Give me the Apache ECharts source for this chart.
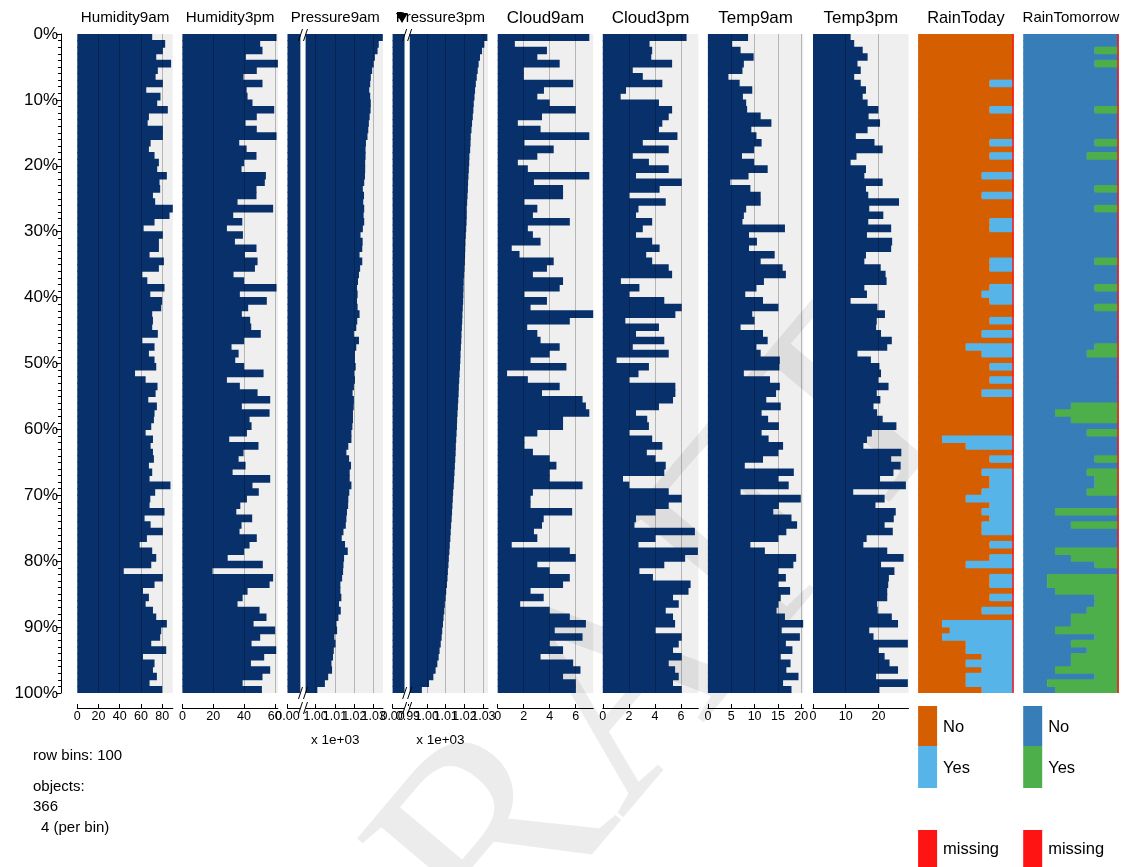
<!DOCTYPE html>
<html><head><meta charset="utf-8">
<script src="https://cdn.jsdelivr.net/npm/echarts@6/dist/echarts.min.js"></script>
<style>html,body{margin:0;padding:0;background:#fff}#c{width:1126px;height:867px}</style>
</head><body><div id="c"></div>
<script>
// ---------------- DATA ----------------
const columns = ['Humidity9am','Humidity3pm','Pressure9am','Pressure3pm','Cloud9am','Cloud3pm','Temp9am','Temp3pm','RainToday','RainTomorrow'];
const yTickLabels = ['0%','10%','20%','30%','40%','50%','60%','70%','80%','90%','100%'];
const rowBins = 100;
const objects = 366;
const perBin = 4;
const catLevels = ['No','Yes','missing'];

const humidity9am = [70.6,82.8,80.6,74.4,88.4,75.9,73.8,80.6,65.0,78.4,
 75.3,85.3,67.5,66.3,80.6,80.6,69.1,67.5,72.8,76.9,
 75.3,84.4,77.5,78.1,71.3,73.4,90.0,86.9,72.8,62.5,
 80.6,76.9,76.9,68.1,81.6,76.9,61.3,66.0,82.2,68.8,
 80.0,79.1,70.6,71.3,70.6,75.9,61.3,72.8,67.5,72.8,
 74.4,54.4,64.4,75.6,73.8,66.9,75.0,72.8,72.2,69.7,
 64.4,71.3,69.1,71.3,72.2,67.5,70.6,68.1,87.8,73.4,
 68.8,68.1,82.2,63.4,69.1,80.6,65.6,58.8,70.6,74.4,
 69.7,43.8,80.6,72.8,61.9,67.5,64.4,71.3,74.4,84.4,
 79.1,78.1,69.7,83.8,61.9,72.8,71.3,75.0,68.1,80.0];

const humidity3pm = [61.1,50.5,52.0,41.2,62.0,48.3,39.7,52.0,41.7,42.3,
 45.5,59.6,48.3,41.0,48.3,61.1,36.9,41.7,48.1,40.1,
 38.4,54.2,53.5,48.1,48.1,35.8,58.9,33.0,38.9,28.9,
 39.3,34.1,48.1,40.6,48.8,47.1,33.2,40.1,61.1,37.3,
 54.8,42.7,38.6,44.0,44.7,50.9,40.1,31.9,36.5,34.3,
 40.1,52.7,28.9,37.3,48.8,57.0,38.6,56.6,43.6,44.9,
 41.9,30.4,49.4,39.7,36.5,41.0,32.6,57.0,45.5,49.6,
 41.9,37.6,35.0,45.3,38.4,37.1,48.3,43.6,40.1,29.4,
 52.2,19.6,58.9,56.6,42.3,39.1,35.8,50.1,54.6,46.2,
 60.2,50.5,44.9,60.9,53.1,44.5,57.0,52.0,39.1,51.6];

const pressure9am = [1034.7,1032.6,1032.0,1030.6,1030.0,1029.2,1028.5,1028.2,1027.7,1028.2,
 1028.5,1028.4,1027.9,1027.5,1027.2,1026.8,1026.0,1025.8,1025.8,1025.6,
 1025.6,1025.5,1025.1,1024.4,1025.0,1024.6,1025.1,1024.8,1025.1,1024.4,
 1023.2,1024.3,1024.1,1022.7,1024.1,1023.0,1022.4,1021.9,1021.4,1021.7,
 1021.4,1021.7,1022.7,1021.5,1021.0,1019.8,1022.4,1021.0,1020.3,1020.3,
 1020.7,1020.0,1020.3,1019.8,1019.1,1019.8,1019.7,1019.3,1019.3,1019.0,
 1018.5,1018.5,1016.9,1015.9,1017.3,1018.3,1017.6,1017.6,1018.5,1017.4,
 1016.9,1016.8,1016.2,1015.9,1015.6,1014.4,1013.5,1015.2,1016.6,1014.7,
 1014.4,1014.2,1013.7,1012.8,1012.8,1013.3,1012.1,1013.0,1011.8,1010.8,
 1011.1,1009.7,1010.3,1009.4,1009.0,1008.2,1008.5,1006.5,1004.8,1000.9];

const pressure3pm = [1032.1,1030.5,1029.3,1028.2,1027.5,1027.0,1026.5,1026.0,1025.6,1025.3,
 1024.9,1024.7,1024.4,1024.0,1023.7,1023.3,1023.2,1023.0,1022.6,1022.5,
 1022.3,1022.1,1021.9,1021.8,1021.6,1021.4,1021.2,1021.2,1021.1,1020.9,
 1020.7,1020.5,1020.4,1020.3,1020.2,1020.0,1019.8,1019.6,1019.5,1019.4,
 1019.3,1019.1,1018.9,1018.8,1018.6,1018.4,1018.3,1018.1,1017.9,1017.8,
 1017.6,1017.4,1017.2,1017.0,1016.9,1016.7,1016.5,1016.3,1016.1,1016.0,
 1015.8,1015.6,1015.4,1015.3,1015.1,1014.9,1014.7,1014.5,1014.3,1014.0,
 1013.8,1013.6,1013.4,1013.2,1012.9,1012.7,1012.5,1012.2,1012.0,1011.7,
 1011.5,1011.2,1011.0,1010.7,1010.3,1010.0,1009.6,1009.3,1008.9,1008.6,
 1008.2,1007.9,1007.4,1006.8,1006.3,1005.6,1004.7,1003.5,1001.2,997.4];

const cloud9am = [7.05,1.32,3.79,3.05,4.77,2.01,2.01,5.81,3.56,3.05,
 4.00,6.01,3.41,1.55,3.30,7.05,2.06,4.31,3.05,1.55,
 2.32,7.05,2.79,5.03,5.03,2.06,3.05,2.71,5.55,2.32,
 2.71,3.30,1.08,1.68,4.31,3.79,2.71,5.03,4.77,2.06,
 3.79,2.53,7.35,5.55,2.27,3.05,3.30,4.77,4.00,2.53,
 5.29,0.72,2.32,4.77,3.41,6.53,6.79,7.05,5.03,5.03,
 3.05,2.06,2.06,2.71,4.00,4.52,4.00,4.00,6.53,2.71,
 2.53,2.53,5.73,3.54,3.41,2.79,3.05,1.08,5.55,6.01,
 3.05,4.00,5.55,5.03,2.53,3.54,1.73,4.00,5.55,6.79,
 4.39,6.53,4.00,5.03,3.30,5.81,6.37,5.03,6.01,6.01];

const cloud3pm = [6.43,3.59,3.79,3.72,5.32,2.30,3.07,4.57,1.78,1.37,
 4.31,5.32,5.06,4.57,4.31,5.73,3.07,5.06,2.30,3.54,
 5.06,2.55,6.06,4.36,2.04,4.83,2.74,2.55,3.79,3.07,
 2.55,3.79,4.36,3.33,3.79,5.06,5.32,1.39,2.81,2.04,
 4.72,6.06,5.57,1.73,4.31,2.55,4.72,2.30,5.06,1.06,
 3.54,2.74,2.04,5.57,5.57,5.39,4.31,2.55,3.41,3.54,
 2.04,3.79,4.57,3.38,4.05,4.83,4.72,1.55,2.04,5.06,
 6.06,5.06,4.05,2.55,2.43,7.07,4.05,2.74,7.30,6.32,
 4.72,2.81,3.85,6.74,6.58,5.39,5.83,4.83,5.39,5.55,
 4.05,6.06,5.83,5.39,6.06,5.06,5.55,5.83,5.39,6.06];

const temp9am = [8.6,5.2,7.0,9.8,7.7,7.4,4.4,6.8,9.5,7.5,
 8.2,8.4,11.3,13.6,9.3,10.4,11.5,9.9,7.3,9.9,
 12.8,8.7,4.8,9.1,11.3,11.3,8.2,7.7,7.4,16.5,
 8.8,10.5,8.8,14.3,11.3,16.0,16.7,12.0,10.4,8.0,
 11.8,15.1,9.5,10.0,7.0,11.8,12.8,10.4,11.3,15.4,
 15.3,7.7,13.3,15.4,14.6,12.5,15.6,11.5,12.9,15.2,
 11.5,13.0,16.1,15.1,11.8,7.9,18.4,15.1,17.3,7.0,
 19.9,15.2,14.0,17.9,19.1,16.8,15.1,9.1,12.2,18.9,
 18.3,15.1,16.7,15.1,17.6,15.6,15.1,14.7,16.5,20.4,
 15.8,19.7,16.7,18.1,15.6,17.7,16.8,19.4,16.1,17.9];

const temp3pm = [11.5,12.6,15.2,16.7,13.6,14.6,12.6,14.6,16.2,15.2,
 16.7,20.0,17.0,20.5,16.7,13.1,18.8,21.3,13.3,11.5,
 16.2,15.7,21.3,16.2,16.9,26.3,17.2,21.5,16.9,23.9,
 16.5,24.2,23.9,16.2,15.7,20.7,22.2,22.5,15.7,16.5,
 11.5,19.7,22.0,19.5,19.3,20.8,24.1,22.7,13.6,17.7,
 20.3,20.8,20.0,23.1,19.5,20.6,18.5,19.6,21.3,25.5,
 18.0,16.5,15.4,27.0,23.9,26.8,24.6,20.5,28.4,12.3,
 21.9,19.1,25.3,24.7,21.9,24.4,16.4,15.4,22.7,27.7,
 20.8,24.9,23.2,23.0,22.7,22.7,19.6,19.8,24.1,26.0,
 17.2,18.5,29.0,20.1,21.9,23.4,26.0,19.3,29.0,20.3];

// percentage of "Yes" per bin
const rainTodayYes = [0,0,0,0,0,0,0,25,0,0,
 0,25,0,0,0,0,25,0,25,0,
 0,33.3,0,0,33.3,0,0,0,25,25,
 0,0,0,0,25,25,0,0,25,33.3,
 25,0,0,25,0,33.3,0,50,33.3,0,
 25,0,25,0,33.3,0,0,0,0,0,
 0,75,50,0,25,0,33.3,25,25,33.3,
 50,25,33.3,25,33.3,33.3,0,25,0,25,
 50,0,25,25,0,25,0,33.3,0,75,
 66.7,75,50,50,33.3,50,33.3,50,50,33.3];

const rainTomorrowYes = [0,0,25,0,25,0,0,0,0,0,
 0,25,0,0,0,0,25,0,33.3,0,
 0,0,0,25,0,0,25,0,0,0,
 0,0,0,0,25,0,0,0,25,0,
 0,25,0,0,0,0,0,25,33.3,0,
 0,0,0,0,0,0,50,66.7,50,0,
 33.3,0,0,0,25,0,33.3,25,25,33.3,
 0,0,66.7,0,50,0,0,0,66.7,50,
 25,0,75,75,66.7,25,25,33.3,50,50,
 66.7,25,50,33.3,50,50,66.7,25,75,66.7];

// ---------------- CHART ----------------
const rowIds = humidity9am.map((_, i) => i);
const FONT = '"Liberation Sans", Arial, Helvetica, sans-serif';
const NAVY = '#08306b';
const TOP = 34, H = 659, PW = 95.5;
const BAR_W = 7.6;
const panelLeft = i => 77.3 + i * 105.1;

const numericPanels = [
  {data: humidity9am, min: 0, max: 90, ticks: [0,20,40,60,80], grid: [20,40,60,80], fmt: v => String(v)},
  {data: humidity3pm, min: 0, max: 62, ticks: [0,20,40,60], grid: [20,40,60], fmt: v => String(v)},
  {data: pressure9am, min: 985.5, max: 1034.8, ticks: [985.5,1000,1010,1020,1030], grid: [1000,1010,1020,1030],
   fmt: v => v < 990 ? '0.00' : (v/1000).toFixed(2), brk: 993.5},
  {data: pressure3pm, min: 981.9, max: 1032.5, ticks: [981.9,990,1000,1010,1020,1030], grid: [1000,1010,1020,1030],
   fmt: v => v < 985 ? '0.00' : (v/1000).toFixed(2), brk: 989.6},
  {data: cloud9am, min: 0, max: 7.35, ticks: [0,2,4,6], grid: [2,4,6], fmt: v => String(v)},
  {data: cloud3pm, min: 0, max: 7.33, ticks: [0,2,4,6], grid: [2,4,6], fmt: v => String(v)},
  {data: temp9am, min: 0, max: 20.45, ticks: [0,5,10,15,20], grid: [5,10,15,20], fmt: v => String(v)},
  {data: temp3pm, min: 0, max: 29.2, ticks: [0,10,20], grid: [10,20], fmt: v => String(v)}
];
const catPanels = [
  {yes: rainTodayYes, colors: ['#D55E00','#56B4E9']},
  {yes: rainTomorrowYes, colors: ['#377EB8','#4DAF4A']}
];
const MISSING = '#FF1414';

const grids = [], xAxes = [], yAxes = [], series = [];
numericPanels.forEach((p, i) => {
  grids.push({left: panelLeft(i), top: TOP, width: PW, height: H, show: true,
    backgroundColor: '#efefef', borderWidth: 0, outerBoundsMode: 'none'});
  xAxes.push({type: 'value', gridIndex: i, min: p.min, max: p.max, position: 'bottom', offset: 15,
    axisLine: {show: true, onZero: false, lineStyle: {color: '#000', width: 1}},
    axisTick: {show: true, inside: true, length: 4, customValues: p.ticks, lineStyle: {color: '#000'}},
    axisLabel: {show: false},
    splitLine: {show: false}});
  yAxes.push({type: 'category', gridIndex: i, data: rowIds, inverse: true, show: false});
  series.push({type: 'bar', xAxisIndex: i, yAxisIndex: i, data: p.data, barWidth: BAR_W, z: 3,
    itemStyle: {color: NAVY}, silent: true, animation: false,
    markLine: {silent: true, symbol: ['none','none'], animation: false, label: {show: false},
      lineStyle: {color: 'rgba(0,0,0,0.24)', width: 1, type: 'solid'},
      data: p.grid.map(v => ({xAxis: v}))}});
});
catPanels.forEach((p, k) => {
  const i = numericPanels.length + k;
  grids.push({left: panelLeft(i), top: TOP, width: PW, height: H, show: false, outerBoundsMode: 'none'});
  xAxes.push({type: 'value', gridIndex: i, min: 0, max: 100, show: false});
  yAxes.push({type: 'category', gridIndex: i, data: rowIds, inverse: true, show: false});
  series.push({type: 'bar', name: catLevels[0], stack: 's' + k, xAxisIndex: i, yAxisIndex: i, z: 3,
    data: p.yes.map(v => 100 - v), barWidth: BAR_W,
    itemStyle: {color: p.colors[0]}, silent: true, animation: false});
  series.push({type: 'bar', name: catLevels[1], stack: 's' + k, xAxisIndex: i, yAxisIndex: i, z: 3,
    data: p.yes, barWidth: BAR_W,
    itemStyle: {color: p.colors[1]}, silent: true, animation: false,
    markLine: {silent: true, symbol: ['none','none'], animation: false, label: {show: false},
      lineStyle: {color: MISSING, width: 1.5, type: 'solid'}, data: [{xAxis: 99.4}]}});
});
// left percentage axis
const LI = grids.length;
grids.push({left: 61, top: TOP, width: 1, height: H, show: false, outerBoundsMode: 'none'});
xAxes.push({type: 'value', gridIndex: LI, min: 0, max: 1, show: false});
yAxes.push({type: 'value', gridIndex: LI, min: 0, max: 100, interval: 10, inverse: true, position: 'left',
  axisLine: {show: true, lineStyle: {color: '#000', width: 1}},
  axisTick: {show: true, length: 5, lineStyle: {color: '#000'}},
  minorTick: {show: true, splitNumber: 10, length: 3, lineStyle: {color: '#000'}},
  axisLabel: {show: true, formatter: v => yTickLabels[Math.round(v / 10)], fontSize: 17, color: '#000', margin: 3,
    fontFamily: FONT, hideOverlap: false},
  splitLine: {show: false}});
series.push({type: 'scatter', xAxisIndex: LI, yAxisIndex: LI, data: [], silent: true});

const headerSizes = [15.2, 15.2, 15.0, 15.0, 17, 17, 17, 17, 16.4, 15.0];
const graphics = [];
columns.forEach((c, i) => {
  graphics.push({type: 'text', x: panelLeft(i) + PW / 2, y: 18, z: 50,
    style: {text: c, font: headerSizes[i] + 'px ' + FONT, fill: '#000', textAlign: 'center', textVerticalAlign: 'middle'}});
});
// sort indicator
graphics.push({type: 'polygon', z: 60, shape: {points: [[396, 13], [408, 13], [402, 23]]}, style: {fill: '#000'}});
// x 1e+03 labels
[2, 3].forEach(i => graphics.push({type: 'text', x: panelLeft(i) + PW / 2, y: 740, z: 50,
  style: {text: 'x 1e+03', font: '13.5px ' + FONT, fill: '#000', textAlign: 'center', textVerticalAlign: 'middle'}}));
// info text
graphics.push({type: 'text', x: 33, y: 756, z: 50, style: {text: 'row bins: ' + rowBins, font: '15px ' + FONT, fill: '#000', textVerticalAlign: 'middle'}});
graphics.push({type: 'text', x: 33, y: 787, z: 50, style: {text: 'objects:', font: '15px ' + FONT, fill: '#000', textVerticalAlign: 'middle'}});
graphics.push({type: 'text', x: 33, y: 807, z: 50, style: {text: String(objects), font: '15px ' + FONT, fill: '#000', textVerticalAlign: 'middle'}});
graphics.push({type: 'text', x: 41, y: 828, z: 50, style: {text: perBin + ' (per bin)', font: '15px ' + FONT, fill: '#000', textVerticalAlign: 'middle'}});
// legends
catPanels.forEach((p, k) => {
  const x0 = panelLeft(8 + k);
  graphics.push({type: 'rect', z: 50, shape: {x: x0, y: 706, width: 19, height: 40}, style: {fill: p.colors[0]}});
  graphics.push({type: 'rect', z: 50, shape: {x: x0, y: 746, width: 19, height: 42}, style: {fill: p.colors[1]}});
  graphics.push({type: 'rect', z: 50, shape: {x: x0, y: 830, width: 19, height: 40}, style: {fill: MISSING}});
  [[catLevels[0], 727], [catLevels[1], 768], [catLevels[2], 849]].forEach(([t, y]) =>
    graphics.push({type: 'text', x: x0 + 25, y: y, z: 50, style: {text: t, font: '16.5px ' + FONT, fill: '#000', textVerticalAlign: 'middle'}}));
});

const chart = echarts.init(document.getElementById('c'));
chart.setOption({
  animation: false,
  textStyle: {fontFamily: FONT},
  grid: grids, xAxis: xAxes, yAxis: yAxes, series: series,
  graphic: graphics
});

const extra = [];
// bottom tick labels, placed through each axis' own scale
numericPanels.forEach((p, i) => {
  p.ticks.forEach(t => {
    const px = chart.convertToPixel({xAxisIndex: i}, t);
    extra.push({type: 'text', x: px, y: 716.5, z: 50,
      style: {text: p.fmt(t), font: '12.5px ' + FONT, fill: '#000', textAlign: 'center', textVerticalAlign: 'middle'}});
  });
});
// axis breaks for pressure panels
numericPanels.forEach((p, i) => {
  if (p.brk === undefined) return;
  const px = chart.convertToPixel({xAxisIndex: i}, p.brk);
  extra.push({type: 'rect', z: 40, shape: {x: px - 2.6, y: TOP, width: 5.2, height: H}, style: {fill: '#fff'}});
  extra.push({type: 'rect', z: 40, shape: {x: px - 2.6, y: TOP + H + 13, width: 5.2, height: 4}, style: {fill: '#fff'}});
  [TOP + 1, TOP + H, TOP + H + 15].forEach(y => {
    extra.push({type: 'line', z: 45, shape: {x1: px - 4.5, y1: y + 6, x2: px - 0.5, y2: y - 6}, style: {stroke: '#000', lineWidth: 1}});
    extra.push({type: 'line', z: 45, shape: {x1: px + 0.5, y1: y + 6, x2: px + 4.5, y2: y - 6}, style: {stroke: '#000', lineWidth: 1}});
  });
});
// watermark (above panel backgrounds, beneath the bars)
extra.push({type: 'text', x: 610, y: 715, rotation: 0.87, z: 1, silent: true,
  style: {text: 'DRAFT', font: '290px "Liberation Serif", serif', fill: 'rgba(0,0,0,0.075)', textAlign: 'center', textVerticalAlign: 'middle'}});
chart.setOption({graphic: graphics.concat(extra)});
</script>
</body></html>
